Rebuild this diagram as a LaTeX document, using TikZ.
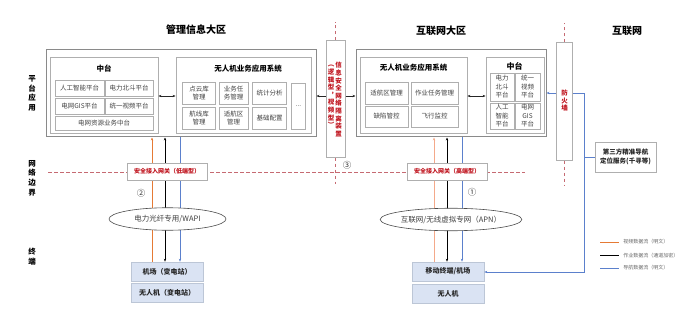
\documentclass[tikz,border=0pt]{standalone}
\usepackage{fontspec}
\setmainfont{Noto Sans CJK SC}
\usetikzlibrary{arrows.meta, positioning, shapes.geometric, backgrounds}
\definecolor{vidline}{HTML}{E57A35}
\definecolor{vidlight}{HTML}{F4A98A}
\definecolor{navline}{HTML}{5B80CC}
\definecolor{boxline}{HTML}{AFAFAF}
\definecolor{outerline}{HTML}{8A8A8A}
\definecolor{termfill}{HTML}{DAE3F3}
\definecolor{termline}{HTML}{BCC6D6}
\definecolor{alert}{HTML}{C0141E}
\definecolor{txtgray}{HTML}{404040}
\definecolor{bound}{HTML}{C66A72}
\newcommand{\fsz}[2]{\fontsize{#1}{#2}\selectfont}

\begin{document}
\begin{tikzpicture}[x=1pt, y=-1pt, >={Stealth[length=3pt, width=2.4pt]},
  every node/.style={font=\fsz{6.5}{8}, text=txtgray, inner sep=0pt},
  zone/.style={font=\bfseries\fsz{10}{12}, text=black},
  side/.style={font=\bfseries\fsz{7.5}{9.6}, text=black, align=center},
  outer/.style={draw=outerline, line width=1pt},
  panel/.style={draw=boxline, line width=0.8pt},
  cell/.style={draw=boxline, line width=0.6pt, align=center, font=\fsz{6.5}{8.5}},
  ptitle/.style={font=\bfseries\fsz{7.5}{9}, text=black},
  gate/.style={draw=boxline, line width=0.7pt, fill=white, font=\bfseries\fsz{6}{7}, text=alert, minimum width=80, minimum height=17},
  net/.style={ellipse, draw=black!70, line width=0.6pt, fill=white, font=\fsz{7.5}{9}, minimum width=117, minimum height=22.5},
  term/.style={draw=termline, line width=0.6pt, fill=termfill, font=\bfseries\fsz{7}{8}, text=black!85, minimum width=72, minimum height=19},
  wall/.style={draw=boxline, line width=1pt, fill=white, minimum width=19},
  walltxt/.style={font=\bfseries\fsz{6.5}{7.6}, text=alert, align=center},
  circnum/.style={font=\fsz{8.5}{9}, text=black!80},
  legend/.style={right=4pt, font=\fsz{5}{6}, text=black!60},
  link/.style={draw=black!85, line width=0.6pt},
  vidpen/.style={draw=vidline, line width=0.9pt},
  vidpen2/.style={draw=vidlight, line width=0.9pt},
  jobpen/.style={draw=black, line width=0.9pt},
  navpen/.style={draw=navline, line width=0.9pt},
  bordline/.style={draw=bound, dash pattern=on 3.5pt off 2.5pt, line width=0.7pt}]

\useasboundingbox (0,0) rectangle (693,318);

% zones and rows
\node[zone] (zMgmt) at (196,30) {管理信息大区};
\node[zone] (zNet) at (441,31) {互联网大区};
\node[zone] (zInet) at (627,31) {互联网};
\node[side] (sPlat) at (32,93.5) {平\\台\\应\\用};
\node[side] (sEdge) at (32,178) {网\\络\\边\\界};
\node[side] (sTerm) at (32,256.5) {终\\端};

% management zone
\node[outer, minimum width=270, minimum height=87] (mgmtOuter) at (181,93.5) {};
\node[panel, minimum width=108, minimum height=76] (midL) at (104,95) {};
\node[ptitle] (midLT) at (104,69) {中台};
\node[cell, minimum width=49, minimum height=16] (aiL) at (79.5,88) {人工智能平台};
\node[cell, minimum width=48, minimum height=16] (bdL) at (129,88) {电力北斗平台};
\node[cell, minimum width=49, minimum height=16] (gisL) at (79.5,106) {电网GIS平台};
\node[cell, minimum width=48, minimum height=16] (vidL) at (129,106) {统一视频平台};
\node[cell, minimum width=98, minimum height=14] (resL) at (104,123) {电网资源业务中台};
\node[panel, minimum width=135, minimum height=76] (appL) at (243.5,95) {};
\node[ptitle] (appLT) at (248,69) {无人机业务应用系统};
\node[cell, minimum width=33, minimum height=22] (cloudL) at (199,93) {点云库\\管理};
\node[cell, minimum width=29, minimum height=22] (taskL) at (233.5,93) {业务任\\务管理};
\node[cell, minimum width=34, minimum height=22] (statL) at (269.5,93) {统计分析};
\node[cell, minimum width=33, minimum height=22] (routeL) at (199,118) {航线库\\管理};
\node[cell, minimum width=29, minimum height=22] (areaL) at (233.5,118) {适航区\\管理};
\node[cell, minimum width=34, minimum height=22] (confL) at (269.5,118) {基础配置};
\node[cell, minimum width=14, minimum height=46] (moreL) at (298.5,106) {...};

% internet zone
\node[outer, minimum width=190, minimum height=87] (netOuter) at (451,93.5) {};
\node[panel, minimum width=107, minimum height=76] (appR) at (413.5,95) {};
\node[ptitle] (appRT) at (413.5,68) {无人机业务应用系统};
\node[cell, minimum width=43, minimum height=22] (areaR) at (386.5,93) {适航区管理};
\node[cell, minimum width=47, minimum height=22] (taskR) at (434.5,93) {作业任务管理};
\node[cell, minimum width=43, minimum height=21] (defR) at (386.5,116.5) {缺陷管控};
\node[cell, minimum width=47, minimum height=21] (flyR) at (434.5,116.5) {飞行监控};
\node[panel, minimum width=58, minimum height=76] (midR) at (515,95) {};
\node[ptitle, font=\bfseries\fsz{8}{9}] (midRT) at (514.5,66) {中台};
\node[cell, minimum width=24, minimum height=28] (bdR) at (502,87) {电力\\北斗\\平台};
\node[cell, minimum width=25, minimum height=28] (vidR) at (527.5,87) {统一\\视频\\平台};
\node[cell, minimum width=24, minimum height=26] (aiR) at (502,116) {人工\\智能\\平台};
\node[cell, minimum width=25, minimum height=26] (gisR) at (527.5,116) {电网\\GIS\\平台};

% walls
\node[wall, minimum height=116] (iso) at (335.5,99) {};
\node[walltxt] (isoA) at (338.5,99.5) {信\\息\\安\\全\\网\\络\\隔\\离\\装\\置};
\node[walltxt] (isoB) at (331,96.5) {︵\\逻\\辑\\型\\︐\\视\\频\\型\\︶};
\node[wall, minimum width=16, minimum height=117] (fw) at (564.5,101.5) {};
\node[walltxt] (fwT) at (564.5,100.5) {防\\火\\墙};
\node[draw=boxline, line width=0.7pt, minimum width=61, minimum height=30, align=center, font=\bfseries\fsz{6.5}{9}, text=black!85] (third) at (625.5,157) {第三方精准导航\\定位服务(千寻等)};

% boundary and access
\node[gate] (gateL) at (167,171.5) {安全接入网关（低端型）};
\node[gate] (gateR) at (447,171.5) {安全接入网关（高端型）};
\node[net] (wapi) at (167.5,219) {电力光纤专用/WAPI};
\node[net, minimum width=116] (apn) at (451,219.5) {互联网/无线虚拟专网（APN）};
\node[term] (siteL) at (167,271.5) {机场（变电站）};
\node[term] (uavL) at (167,292.5) {无人机（变电站）};
\node[term] (siteR) at (448,271.5) {移动终端/机场};
\node[term] (uavR) at (448,293.5) {无人机};
\node[circnum] (m1) at (472,192) {①};
\node[circnum] (m2) at (141,193) {②};
\node[circnum] (m3) at (347,165) {③};

\coordinate (navTop) at (584,93);
\coordinate (navBot) at (584,272);

\begin{scope}[on background layer]
\draw[bordline] (48,172) -- (525,172);
\draw[bordline] (iso.north) -- (iso.north |- 0,22);
\draw[bordline] (iso.south) -- (iso.south |- 0,184);
\draw[bordline] (fw.north) -- (fw.north |- 0,23);
\draw[bordline] (fw.south) -- (fw.south |- 0,186);
\draw[vidpen, ->] ([xshift=-15pt]siteL.north) -- ([xshift=-15pt]siteL.north |- mgmtOuter.south);
\draw[jobpen, <->] ([xshift=-2pt]siteL.north) -- ([xshift=-2pt]siteL.north |- mgmtOuter.south);
\draw[navpen, ->] ([xshift=13pt]siteL.north |- mgmtOuter.south) -- ([xshift=13pt]siteL.north);
\draw[vidpen2, ->] ([xshift=-14pt]siteR.north) -- ([xshift=-14pt]siteR.north |- netOuter.south);
\draw[jobpen, <->] ([xshift=-1pt]siteR.north) -- ([xshift=-1pt]siteR.north |- netOuter.south);
\draw[navpen, ->] ([xshift=14pt]siteR.north |- netOuter.south) -- ([xshift=14pt]siteR.north);
\end{scope}

\draw[link, <->] (midL.east |- 0,96) -- (appL.west |- 0,96);
\draw[link, <->] (appR.east |- 0,96) -- (midR.west |- 0,96);
\draw[link, ->] (iso.west |- 0,96) -- (mgmtOuter.east |- 0,96);
\draw[link, ->] (iso.east |- 0,96) -- (netOuter.west |- 0,96);
\draw[navpen, line width=0.8pt, ->] (fw.west |- navTop) -- (netOuter.east |- navTop);
\draw[navpen, line width=0.8pt, ->] (fw.east |- navTop) -- (navTop) -- (navBot) -- (siteR.east |- navBot);
\draw[navpen, line width=0.8pt] (third.west) -- (third.west -| navTop);

% legend
\draw[vidpen] (600,242) -- (619,242) node[legend] (lgVid) {视频数据流（明文）};
\draw[jobpen] (600,255.5) -- (619,255.5) node[legend] (lgJob) {作业数据流（通道加密）};
\draw[navpen] (600,268) -- (619,268) node[legend] (lgNav) {导航数据流（明文）};
\end{tikzpicture}
\end{document}
